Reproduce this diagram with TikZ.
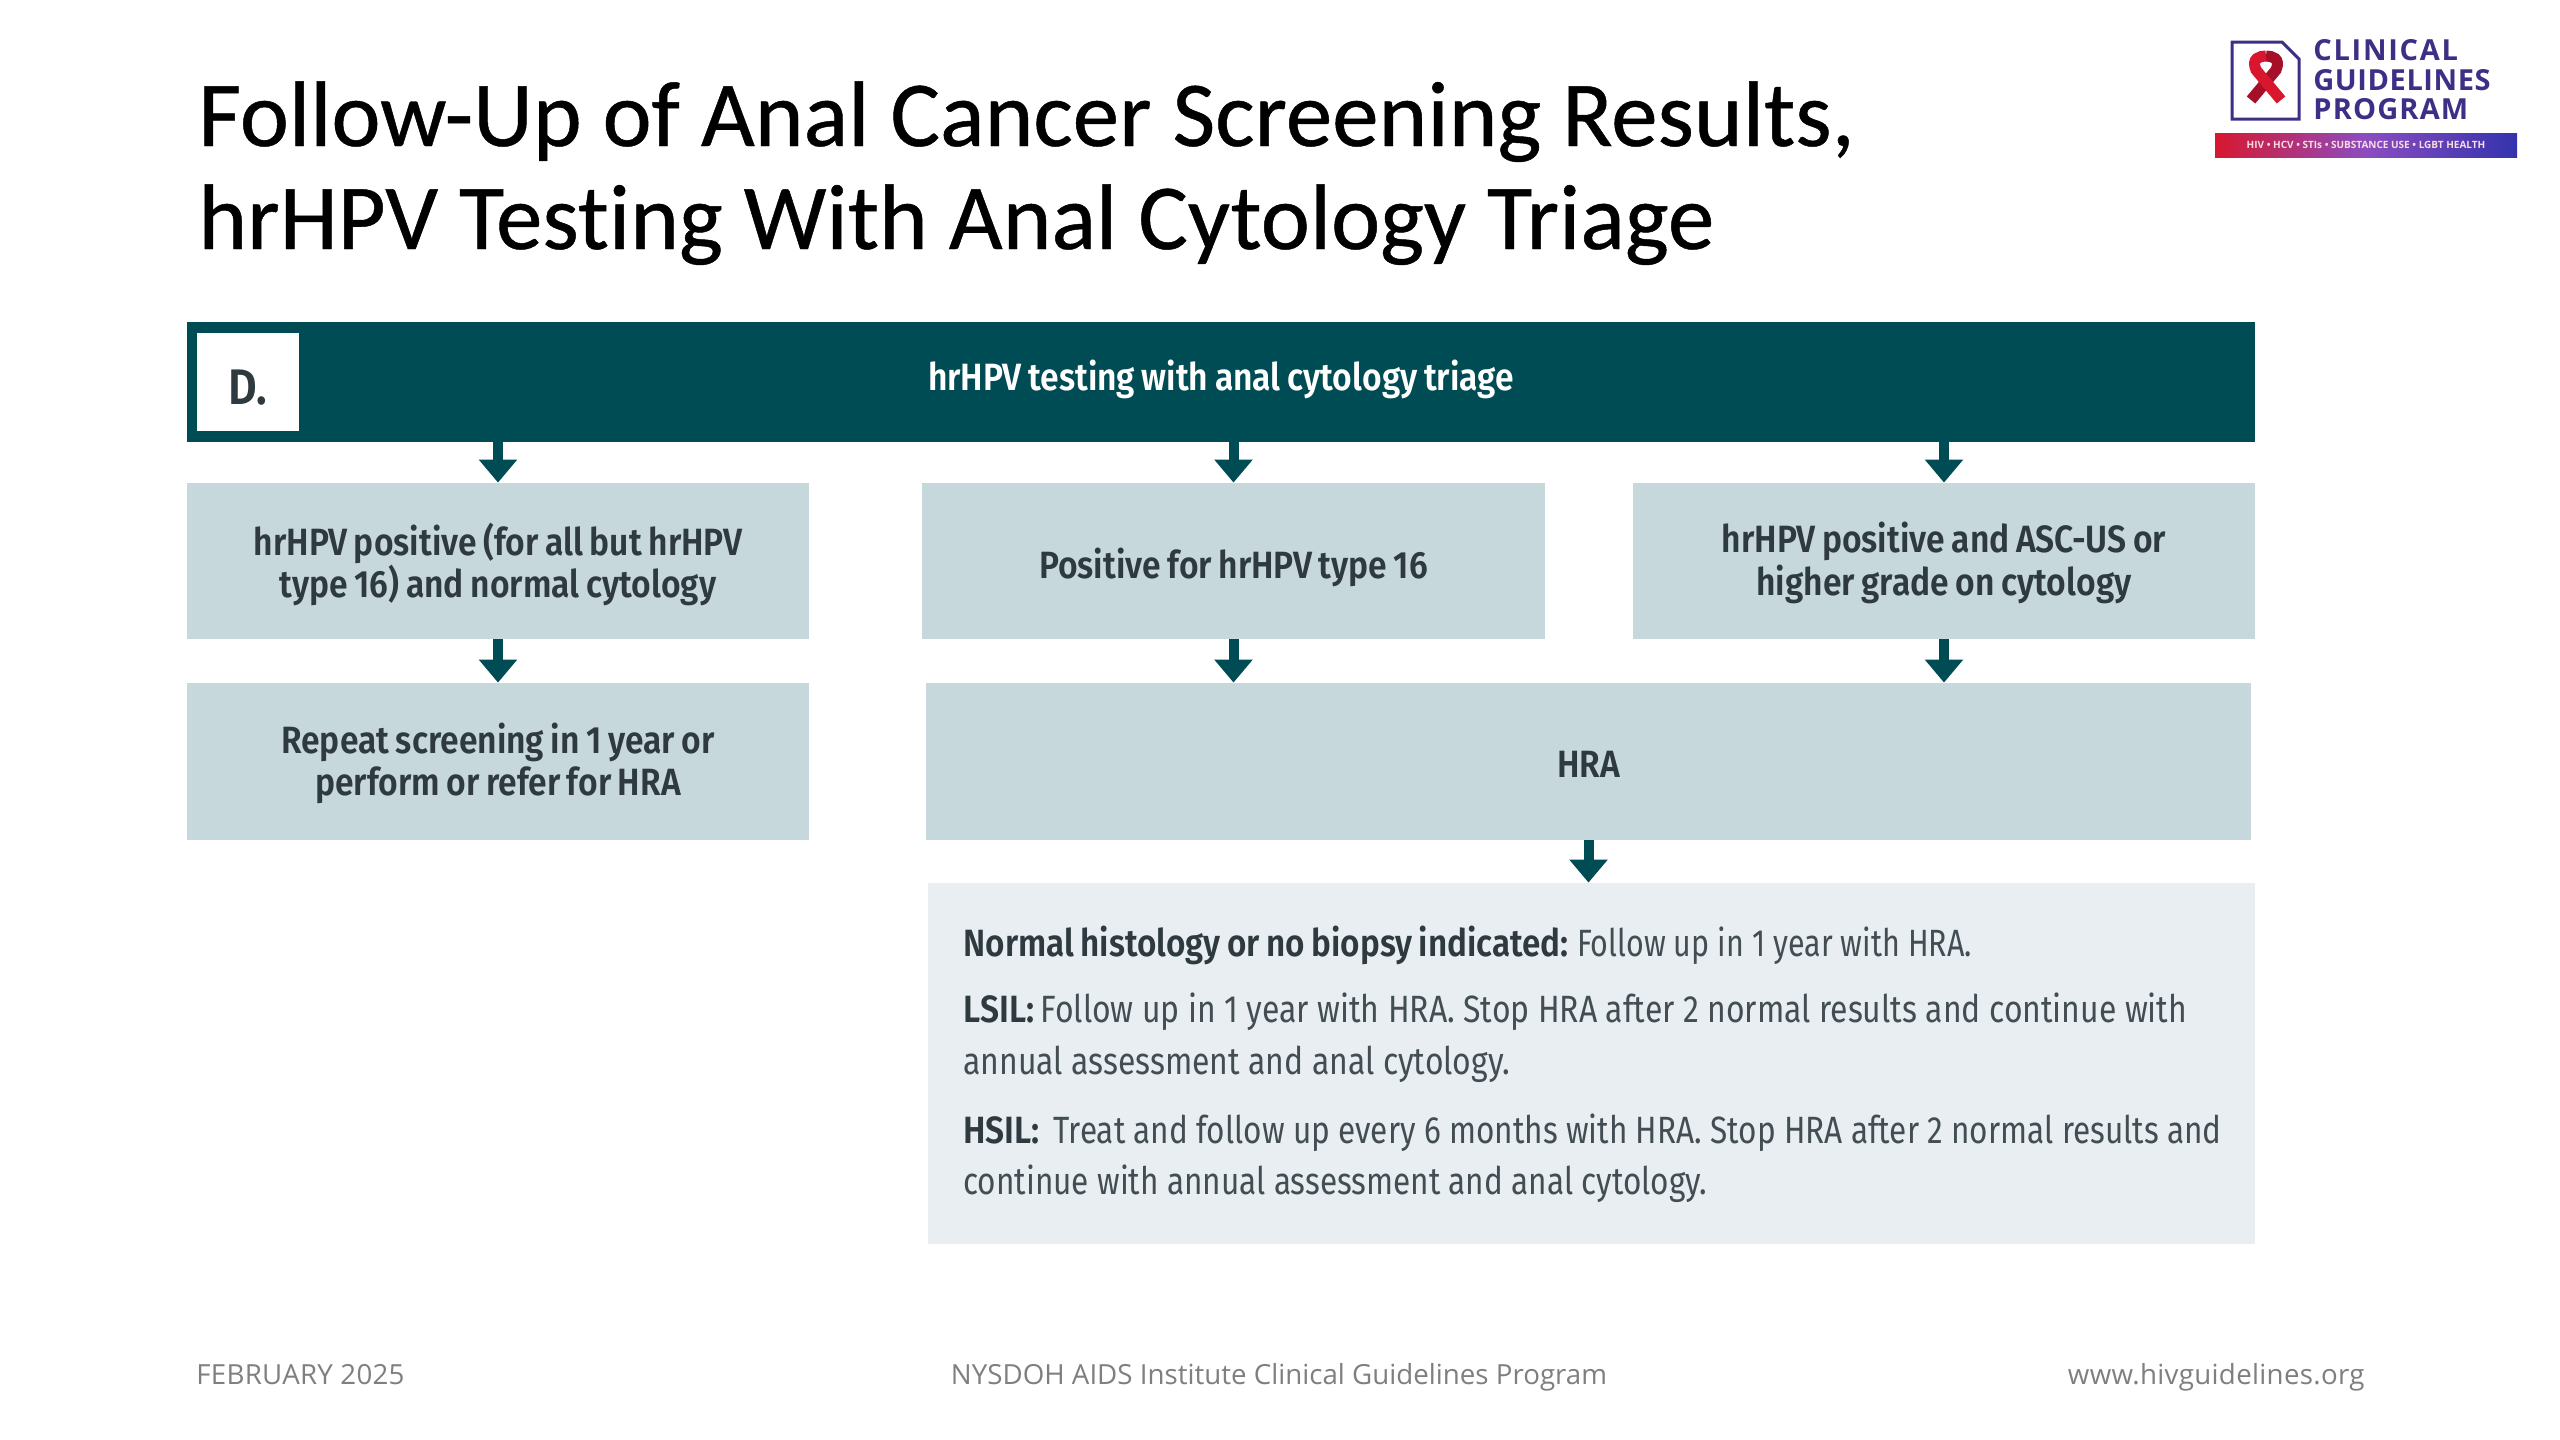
\documentclass[tikz,border=0pt]{standalone}
\usepackage{fontspec}
\usetikzlibrary{arrows.meta}
\setmainfont[Ligatures=NoCommon,FakeBold=0.5]{Carlito}
\newfontfamily\metab[FakeStretch=0.885,WordSpace=0.8]{Fira Sans SemiBold}
\newfontfamily\metabn[FakeStretch=0.875,WordSpace=0.8]{Fira Sans SemiBold}
\newfontfamily\metar[FakeStretch=0.84]{Fira Sans}
\newfontfamily\metars[FakeStretch=0.83]{Fira Sans}
\newfontfamily\metarn[FakeStretch=0.80]{Fira Sans}
\newfontfamily\footf{Open Sans}
\newfontfamily\logof{Open Sans Bold}
\newcommand{\drop}[2]{\raisebox{-#1}[0pt][0pt]{#2}}
\definecolor{teal}{HTML}{004C54}
\definecolor{boxblue}{HTML}{C7D8DD}
\definecolor{boxpale}{HTML}{E8EEF1}
\definecolor{ink}{HTML}{2E3A40}
\definecolor{inkreg}{HTML}{434E54}
\definecolor{footg}{HTML}{7F7F7F}
\definecolor{logop}{HTML}{3E2F86}
\definecolor{ribbon}{HTML}{D8172F}
\definecolor{ribbond}{HTML}{A50F28}
\tikzset{
  x=0.5pt,y=-0.5pt,
  box/.style={fill=boxblue,draw=none,inner sep=0pt,align=center,text=ink,
    font=\metab\fontsize{19}{21.2}\selectfont},
  arr/.style={draw=teal,line width=5pt,-{Triangle[width=18.5pt,length=11.5pt,fill=teal]}},
  ttl/.style={anchor=base west,inner sep=0pt,font=\fontsize{46.5}{50}\selectfont,text=black},
  bodyline/.style={anchor=base west,inner sep=0pt,text=inkreg,font=\metar\fontsize{19}{21}\selectfont},
  foot/.style={anchor=base,inner sep=0pt,text=footg,font=\footf\fontsize{13.85}{16}\selectfont},
  logot/.style={anchor=base west,inner sep=0pt,text=logop,font=\logof\fontsize{14.5}{16}\selectfont},
}
\begin{document}
\begin{tikzpicture}
\useasboundingbox[fill=white] (0,0) rectangle (2560,1440);
% title
\node[ttl] (t1) at (198,146) {Follow-Up of Anal Cancer Screening Results,};
\node[ttl] (t2) at (198,249) {hrHPV Testing With Anal Cytology Triage};
% logo
\draw[logop,line width=1.5pt,line join=miter] (2232,42) -- (2282,42) -- (2299,59) -- (2299,119) -- (2232,119) -- cycle;
\draw[ribbond,line width=5.5pt] (2251,100) -- (2276,70) .. controls (2281,58) and (2272,56) .. (2266,56);
\draw[ribbon,line width=5.5pt] (2266,56) .. controls (2260,56) and (2251,58) .. (2256,70) -- (2281,100);
\node[logot] (l1) at (2313,60) {\addfontfeature{LetterSpace=6}CLINICAL};
\node[logot] (l2) at (2313,90) {\addfontfeature{LetterSpace=2}GUIDELINES};
\node[logot] (l3) at (2313,119) {\addfontfeature{LetterSpace=4}PROGRAM};
\node[minimum width=151pt,minimum height=12pt,inner sep=0pt,left color=ribbon,right color=blue!60!black!80,middle color=violet!70!blue!70,text=white!85!ribbon,font=\footf\bfseries\fontsize{5}{6}\selectfont] (lbar) at (2366,145) {HIV • HCV • STIs • SUBSTANCE USE • LGBT HEALTH};
% header
\node[fill=teal,minimum width=1034pt,minimum height=60pt,inner sep=0pt] (hdr) at (1221,382) {};
\node[fill=white,minimum width=51pt,minimum height=49pt,inner sep=0pt,text=ink,font=\metab\fontsize{25}{27}\selectfont] (d) at (248,382) {\drop{11pt}{D.}};
\node[anchor=base,inner sep=0pt,text=white,font=\metab\fontsize{19}{21}\selectfont] (hdrt) at (1221,390.5) {hrHPV testing with anal cytology triage};
% boxes
\node[box,minimum width=311pt,minimum height=78pt] (b1) at (498,561) {\drop{7.7pt}{hrHPV positive (for all but hrHPV}\\\drop{7.7pt}{type 16) and normal cytology}};
\node[box,minimum width=311.5pt,minimum height=78pt] (b2) at (1233.5,561) {\drop{8.7pt}{Positive for hrHPV type 16}};
\node[box,minimum width=311pt,minimum height=78pt] (b3) at (1944,561) {\drop{6.5pt}{hrHPV positive and ASC-US or}\\\drop{6.5pt}{higher grade on cytology}};
\node[box,minimum width=311pt,minimum height=78.5pt] (r1) at (498,761.5) {\drop{6.5pt}{Repeat screening in 1 year or}\\\drop{6.5pt}{perform or refer for HRA}};
\node[box,minimum width=662.5pt,minimum height=78.5pt] (hra) at (1588.5,761.5) {\drop{8pt}{HRA}};
\node[fill=boxpale,minimum width=663.5pt,minimum height=180.5pt,inner sep=0pt] (res) at (1591.5,1063.5) {};
% result text
\node[bodyline] (n1) at (963,956.5) {{\metabn\color{ink}Normal histology or no biopsy indicated:} \kern-1.5pt{\metarn Follow up in 1 year with HRA.}};
\node[bodyline] (n2) at (963,1022) {{\metab\color{ink}LSIL:}{\metar\,}Follow up in 1 year with HRA. Stop HRA after 2 normal results and continue with};
\node[bodyline] (n3) at (963,1074) {annual assessment and anal cytology.};
\node[bodyline] (n4) at (963,1143) {{\metab\color{ink}HSIL:} \kern2.5pt{\metars Treat and follow up every 6 months with HRA. Stop HRA after 2 normal results and}};
\node[bodyline] (n5) at (963,1194) {{\metars continue with annual assessment and anal cytology.}};
% connectors
\draw[arr] (b1 |- hdr.south) -- (b1.north);
\draw[arr] (b2 |- hdr.south) -- (b2.north);
\draw[arr] (b3 |- hdr.south) -- (b3.north);
\draw[arr] (b1.south) -- (r1.north);
\draw[arr] (b2.south) -- (b2.south |- hra.north);
\draw[arr] (b3.south) -- (b3.south |- hra.north);
\draw[arr] (hra.south) -- (hra.south |- res.north);
% footer
\node[foot,anchor=base west] (f1) at (196,1384) {\addfontfeature{LetterSpace=0.9}FEBRUARY 2025};
\node[foot] (f2) at (1279,1384) {NYSDOH AIDS Institute Clinical Guidelines Program};
\node[foot,anchor=base east] (f3) at (2365,1384) {\addfontfeature{LetterSpace=1.1}www.hivguidelines.org};
\end{tikzpicture}
\end{document}
